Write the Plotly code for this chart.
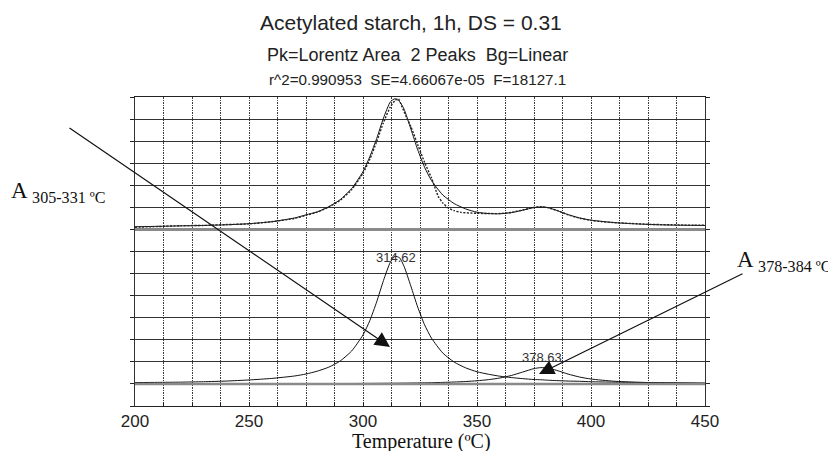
import plotly.graph_objects as go

# ---------------- data ----------------
temp_fit = [200, 210, 220, 230, 240, 250, 260, 270, 275, 280,
            285, 290, 295, 300, 303, 306, 309, 312, 314, 316,
            318, 321, 324, 327, 330, 335, 340, 345, 350, 355,
            360, 365, 370, 375, 378, 381, 385, 390, 395, 400,
            410, 420, 430, 440, 450]
fit_top = [8.12, 8.14, 8.16, 8.18, 8.21, 8.26, 8.35, 8.52, 8.66, 8.80,
           9.03, 9.35, 9.85, 10.62, 11.30, 12.12, 13.05, 13.78, 13.92, 13.80,
           13.45, 12.55, 11.61, 10.82, 10.22, 9.56, 9.17, 8.93, 8.78, 8.72,
           8.71, 8.76, 8.87, 8.99, 9.02, 8.99, 8.86, 8.67, 8.52, 8.42,
           8.31, 8.25, 8.21, 8.19, 8.18]
peak1_bottom = [1.06, 1.07, 1.08, 1.10, 1.13, 1.18, 1.25, 1.36, 1.45, 1.58,
                1.76, 2.04, 2.49, 3.22, 3.87, 4.72, 5.69, 6.52, 6.78, 6.72,
                6.33, 5.43, 4.48, 3.68, 3.08, 2.40, 1.99, 1.73, 1.55, 1.44,
                1.35, 1.29, 1.24, 1.20, 1.19, 1.17, 1.15, 1.13, 1.12, 1.10,
                1.08, 1.07, 1.06, 1.05, 1.04]
peak2_bottom = [1.005, 1.005, 1.006, 1.007, 1.008, 1.009, 1.010, 1.012, 1.013, 1.015,
                1.017, 1.018, 1.020, 1.023, 1.025, 1.027, 1.029, 1.031, 1.033, 1.035,
                1.037, 1.041, 1.045, 1.050, 1.057, 1.069, 1.086, 1.109, 1.143, 1.193,
                1.268, 1.381, 1.537, 1.694, 1.739, 1.719, 1.612, 1.445, 1.312, 1.222,
                1.123, 1.076, 1.051, 1.037, 1.027]

temp_data = [200, 210, 220, 230, 240, 250, 260, 270, 275, 280,
             285, 290, 295, 300, 303, 306, 309, 312, 314, 315.5,
             317, 319, 321, 324, 327, 330, 333, 335, 337, 340,
             343, 350, 355, 360, 365, 370, 375, 378, 381, 385,
             390, 395, 400, 405, 410, 415, 420, 425, 430, 435,
             440, 445, 450]
data_top = [8.10, 8.13, 8.17, 8.18, 8.22, 8.25, 8.35, 8.50, 8.64, 8.78,
            9.02, 9.32, 9.80, 10.55, 11.18, 11.98, 12.85, 13.55, 13.84, 13.92,
            13.58, 13.10, 12.66, 11.84, 11.04, 10.34, 9.50, 9.20, 9.00, 8.85,
            8.77, 8.73, 8.72, 8.72, 8.77, 8.88, 9.00, 9.03, 8.99, 8.86,
            8.66, 8.51, 8.41, 8.35, 8.31, 8.28, 8.26, 8.23, 8.22, 8.21,
            8.20, 8.19, 8.19]

top_baseline = 8.0
bottom_baseline = 1.0
peak_centers = [314.62, 378.63]
peak_label_y = [6.75, 2.2]

x_tick_vals = [200, 250, 300, 350, 400, 450]
x_tick_text = ["200", "250", "300", "350", "400", "450"]
x_title = "Temperature (\u00baC)"

title_lines = ["Acetylated starch, 1h, DS = 0.31",
               "Pk=Lorentz Area\u00a0\u00a02 Peaks\u00a0\u00a0Bg=Linear",
               "r^2=0.990953\u00a0\u00a0SE=4.66067e-05\u00a0\u00a0F=18127.1"]
range_labels = ["305-331 \u00baC", "378-384 \u00baC"]

# ---------------- layout geometry ----------------
# the page body adds an 8px offset, so the figure is drawn 8px smaller
OFF = 8
W, H = 836 - OFF, 451 - OFF
REF_L, REF_R, REF_T, REF_B = 135, 705, 97, 406   # plot box in window pixels
ML, MT = REF_L - OFF, REF_T - OFF
MR, MB = 836 - REF_R, 451 - REF_B
PW, PH = REF_R - REF_L, REF_B - REF_T

SANS = "Liberation Sans, Arial, sans-serif"
SERIF = "Liberation Serif, Times New Roman, serif"
GRID_DASH = "1.5px,1px"

fig = go.Figure()

line_style = dict(color="#111", width=1)
fig.add_trace(go.Scatter(x=temp_fit, y=peak1_bottom, mode="lines",
                         line=dict(line_style, shape="spline", smoothing=0.6),
                         hoverinfo="skip"))
fig.add_trace(go.Scatter(x=temp_fit, y=peak2_bottom, mode="lines",
                         line=dict(line_style, shape="spline", smoothing=0.6),
                         hoverinfo="skip"))
fig.add_trace(go.Scatter(x=temp_fit, y=fit_top, mode="lines",
                         line=dict(line_style, shape="spline", smoothing=0.6),
                         hoverinfo="skip"))
fig.add_trace(go.Scatter(x=temp_data, y=data_top, mode="lines",
                         line=dict(color="#222", width=1.4, dash="2px,1.5px",
                                   shape="spline", smoothing=0.6),
                         hoverinfo="skip"))

# gray baselines of the two panels
for b, w in [(top_baseline, 3), (bottom_baseline, 2.5)]:
    fig.add_shape(type="line", xref="paper", x0=0, x1=1, yref="y", y0=b, y1=b,
                  line=dict(color="#8a8a8a", width=w), layer="above")

annotations = []
# peak labels
for c, ly in zip(peak_centers, peak_label_y):
    annotations.append(dict(x=c, y=ly, xref="x", yref="y", text=f"{c:.2f}",
                            showarrow=False, font=dict(family=SANS, size=13, color="#333"),
                            xanchor="center", yanchor="middle"))

# titles (positions in window pixels of the reference)
for txt, size, cx, cy in [(title_lines[0], 21, 411, 23),
                          (title_lines[1], 18, 417, 55),
                          (title_lines[2], 15.2, 417, 79)]:
    annotations.append(dict(x=(cx - REF_L) / PW, y=(REF_B - cy) / PH,
                            xref="paper", yref="paper", text=txt,
                            showarrow=False, xanchor="center", yanchor="middle",
                            font=dict(family=SANS, size=size, color="#222")))

# x axis title
annotations.append(dict(x=(421 - REF_L) / PW, y=(REF_B - 441) / PH,
                        xref="paper", yref="paper", text=x_title,
                        showarrow=False, xanchor="center", yanchor="middle",
                        font=dict(family=SERIF, size=20, color="#111")))

def px_to_data(px, py):
    return 200 + (px - REF_L) / PW * 250, (REF_B - py) / PH * 14

# arrows
for tip, tail in [((390, 347), (68, 127)), ((539, 374), (744, 273))]:
    tx, ty = px_to_data(*tip)
    ax, ay = px_to_data(*tail)
    annotations.append(dict(x=tx, y=ty, xref="x", yref="y", ax=ax, ay=ay,
                            axref="x", ayref="y", text="", showarrow=True,
                            arrowhead=2, arrowsize=2.5, arrowwidth=1.2,
                            arrowcolor="#111", standoff=0))

# range labels
for lbl, px, py in [(range_labels[0], 9, 192), (range_labels[1], 735, 261)]:
    annotations.append(dict(x=(px - REF_L) / PW, y=(REF_B - py) / PH,
                            xref="paper", yref="paper",
                            text=f"A <sub>{lbl}</sub>", showarrow=False,
                            xanchor="left", yanchor="middle",
                            font=dict(family=SERIF, size=23, color="#111")))

fig.update_layout(
    width=W, height=H,
    margin=dict(l=ML, r=MR, t=MT, b=MB, pad=0, autoexpand=False),
    paper_bgcolor="white", plot_bgcolor="white",
    showlegend=False,
    annotations=annotations,
    xaxis=dict(range=[200, 450], tickvals=x_tick_vals, ticktext=x_tick_text,
               automargin=False,
               showgrid=True, gridcolor="#3a3a3a", griddash=GRID_DASH, gridwidth=1.4,
               ticks="inside", ticklen=4, tickcolor="#222",
               showline=True, linecolor="#222", linewidth=1, mirror=True,
               zeroline=False,
               minor=dict(dtick=12.5, showgrid=True, gridcolor="#3a3a3a",
                          griddash=GRID_DASH, gridwidth=1.4, ticks="inside",
                          ticklen=4, tickcolor="#222"),
               tickfont=dict(family=SANS, size=17, color="#222")),
    yaxis=dict(range=[0, 14], dtick=1, showticklabels=False, automargin=False,
               showgrid=True, gridcolor="#333", gridwidth=1,
               ticks="outside", ticklen=4, tickcolor="#222",
               showline=True, linecolor="#333", linewidth=1, mirror="ticks",
               zeroline=False),
)

fig.write_html("out.html")
